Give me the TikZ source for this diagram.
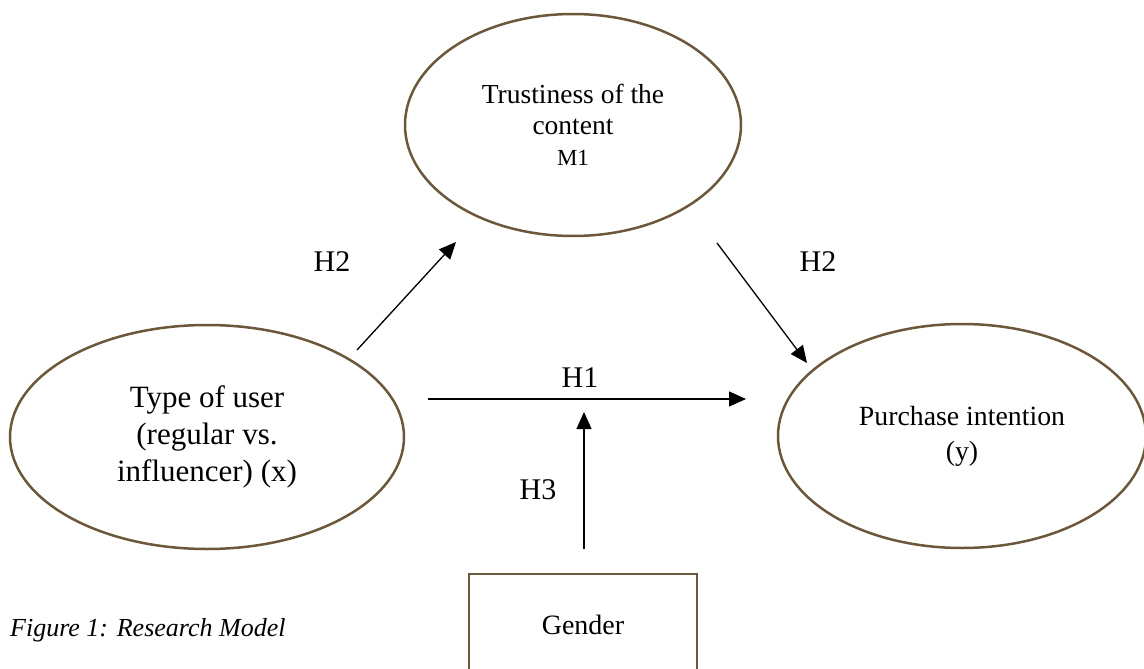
\documentclass[tikz,border=0pt]{standalone}
\usepackage{fontspec}
\setmainfont{Liberation Serif}
\usetikzlibrary{shapes.geometric,arrows.meta}
\definecolor{outl}{RGB}{107,88,58}
\begin{document}
\begin{tikzpicture}[x=1pt,y=-1pt,
  oval/.style={ellipse,draw=outl,line width=2.5pt,inner sep=0pt,align=center},
  boxnode/.style={rectangle,draw=outl,line width=2.5pt,inner sep=0pt},
  arr/.style={line width=1.3pt,-{Triangle[length=17pt,width=15pt]}},
  hlab/.style={inner sep=0pt,font=\fontsize{30}{36}\selectfont},
]
\useasboundingbox (0,0) rectangle (1144,669);
\node[oval,minimum width=336pt,minimum height=222pt,font=\fontsize{27.5}{31}\selectfont] (m) at (573,125) {Trustiness of the\\content\\{\fontsize{23}{29}\selectfont M1}};
\node[oval,minimum width=394pt,minimum height=224pt,font=\fontsize{31}{37}\selectfont] (x) at (207,437) {Type of user\\(regular vs.\\influencer) (x)};
\node[oval,minimum width=368pt,minimum height=224pt,font=\fontsize{27.8}{35}\selectfont] (y) at (962,436) {Purchase intention\\(y)};
\node[boxnode,minimum width=228pt,minimum height=102pt,font=\fontsize{28}{34}\selectfont] (g) at (583,625) {Gender};
\node[anchor=west,inner sep=0pt,font=\fontsize{26}{31}\selectfont\itshape] (cap) at (10,630) {Figure 1: Research Model};

\coordinate (a1s) at (357,350); \coordinate (a1e) at (456,242);
\coordinate (a2s) at (717,243); \coordinate (a2e) at (807,363);
\coordinate (h1s) at (428,399); \coordinate (h1e) at (746,399);
\coordinate (h3s) at (584,549); \coordinate (h3e) at (584,412);

\draw[arr] (a1s) -- (a1e);
\draw[arr] (a2s) -- (a2e);
\draw[arr] (h1s) -- (h1e);
\draw[arr] (h3s) -- (h3e);

\node[hlab] (l2a) at (332,262) {H2};
\node[hlab] (l2b) at (818,262) {H2};
\node[hlab] (l1) at (580,378) {H1};
\node[hlab] (l3) at (538,490) {H3};
\end{tikzpicture}
\end{document}
